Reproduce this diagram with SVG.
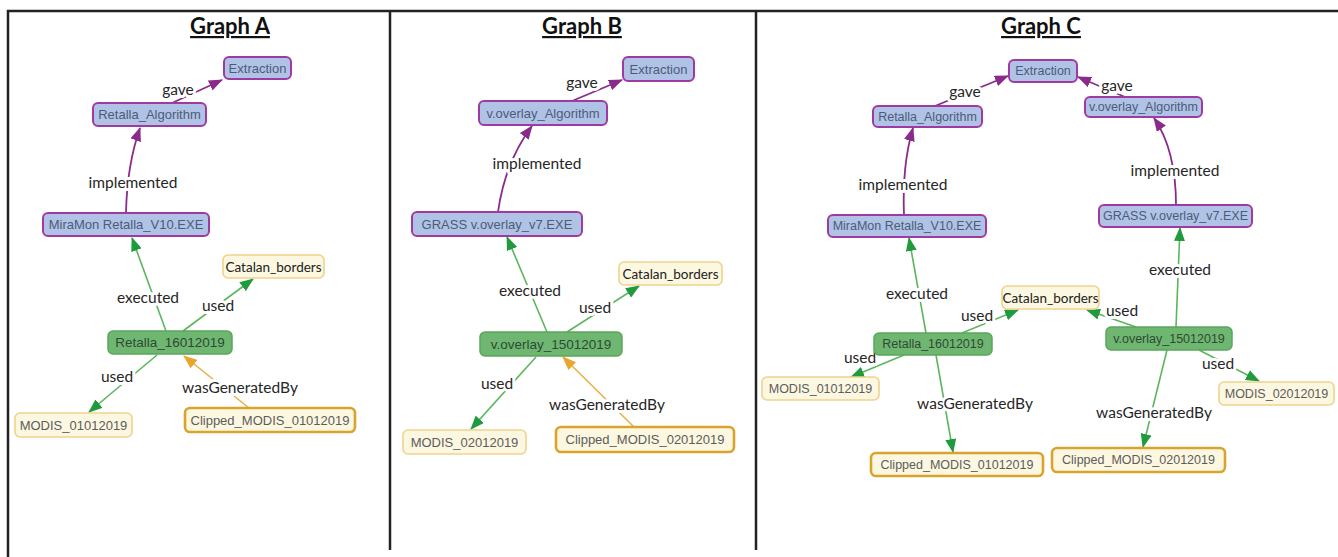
<svg xmlns="http://www.w3.org/2000/svg" width="1338" height="557" viewBox="0 0 1338 557">
  <defs>
    <marker id="arrPurple" markerUnits="userSpaceOnUse" markerWidth="14" markerHeight="11" refX="13" refY="5.5" orient="auto">
      <path d="M0,0 L14,5.5 L0,11 z" fill="#8a2b8c"/>
    </marker>
    <marker id="arrGreen" markerUnits="userSpaceOnUse" markerWidth="14" markerHeight="11" refX="13" refY="5.5" orient="auto">
      <path d="M0,0 L14,5.5 L0,11 z" fill="#1f9a3c"/>
    </marker>
    <marker id="arrOrange" markerUnits="userSpaceOnUse" markerWidth="14" markerHeight="11" refX="13" refY="5.5" orient="auto">
      <path d="M0,0 L14,5.5 L0,11 z" fill="#e9a52c"/>
    </marker>
    <style>
      .frame { stroke: #222; stroke-width: 2.5; fill: none; }
      .title { font-family: Lato, "Liberation Sans", sans-serif; font-weight: bold; font-size: 22px; fill: #111; text-anchor: middle; text-decoration: underline; }
      .plan rect { fill: #b0c2e5; stroke: #a03aa0; stroke-width: 2; }
      .plan text { fill: #4c5c78; }
      .act rect { fill: #6fb770; stroke: #5aa65c; stroke-width: 1.5; }
      .act text { fill: #2e4a36; }
      .ent rect { fill: #fcf7e0; stroke: #eed38c; stroke-width: 1.6; }
      .ent text { fill: #5c5c5c; }
      .gen rect { fill: #fcf7e0; stroke: #d9a42e; stroke-width: 2.6; }
      .gen text { fill: #5c5c5c; }
      .node text { font-family: "Liberation Sans", Arial, sans-serif; font-size: 13px; text-anchor: middle; dominant-baseline: central; }
      .act text { font-size: 13.5px; }
      .small text { font-size: 12.5px; }
      .node text.cal { font-family: Lato, "Liberation Sans", sans-serif; font-size: 13.5px; fill: #222; }
      .e { fill: none; stroke-width: 1.6; }
      .ep { stroke: #8a2b8c; stroke-width: 1.8; marker-end: url(#arrPurple); }
      .eg { stroke: #5db55f; marker-end: url(#arrGreen); }
      .eo { stroke: #eab04a; marker-end: url(#arrOrange); }
      .lbl { font-family: Lato, "Liberation Sans", sans-serif; font-size: 15.5px; fill: #262626; text-anchor: middle; dominant-baseline: central; stroke: #fff; stroke-width: 6; paint-order: stroke; stroke-linejoin: round; }
    </style>
  </defs>

  <rect x="0" y="0" width="1338" height="557" fill="#fff"/>

  <!-- panel frame and dividers -->
  <g id="frame">
    <path class="frame" d="M8,557 L8,11 L1338,11"/>
    <line class="frame" x1="390" y1="11" x2="390" y2="550"/>
    <line class="frame" x1="756" y1="11" x2="756" y2="550"/>
  </g>

  <!-- panel titles -->
  <g id="titles">
    <text class="title" x="230" y="34">Graph A</text>
    <text class="title" x="582" y="34">Graph B</text>
    <text class="title" x="1041" y="34">Graph C</text>
  </g>

  <!-- connectors -->
  <g id="connectors">
    <!-- Graph A -->
    <path class="e ep" d="M172,103 L222,80"/>
    <path class="e ep" d="M126,213 Q127,165 140,128"/>
    <path class="e eg" d="M166,331 L132,238"/>
    <path class="e eg" d="M183,331 L253,279"/>
    <path class="e eg" d="M157,355 L89,412"/>
    <path class="e eo" d="M249,408 L184,356"/>
    <!-- Graph B -->
    <path class="e ep" d="M572,101 L622,80"/>
    <path class="e ep" d="M498,212 Q505,162 532,126"/>
    <path class="e eg" d="M547,332 L507,237"/>
    <path class="e eg" d="M567,332 L639,286"/>
    <path class="e eg" d="M536,357 L471,429"/>
    <path class="e eo" d="M634,427 L563,357"/>
    <!-- Graph C -->
    <path class="e ep" d="M935,106 L1008,76"/>
    <path class="e ep" d="M1125,97 L1078,77"/>
    <path class="e ep" d="M904,215 Q902,165 913,128"/>
    <path class="e ep" d="M1176,205 Q1176,150 1154,118"/>
    <path class="e eg" d="M926,333 L909,238"/>
    <path class="e eg" d="M1176,327 L1180,228"/>
    <path class="e eg" d="M962,333 L1018,310"/>
    <path class="e eg" d="M1136,327 L1087,310"/>
    <path class="e eg" d="M904,355 L851,377"/>
    <path class="e eg" d="M1199,350 L1259,381"/>
    <path class="e eg" d="M936,355 L953,452"/>
    <path class="e eg" d="M1167,350 L1143,447"/>
  </g>

  <!-- connector labels -->
  <g id="labels">
    <text class="lbl" x="178" y="89">gave</text>
    <text class="lbl" x="133" y="182">implemented</text>
    <text class="lbl" x="148" y="297">executed</text>
    <text class="lbl" x="218" y="305">used</text>
    <text class="lbl" x="117" y="376">used</text>
    <text class="lbl" x="240" y="387">wasGeneratedBy</text>

    <text class="lbl" x="582" y="82">gave</text>
    <text class="lbl" x="537" y="163">implemented</text>
    <text class="lbl" x="530" y="290">executed</text>
    <text class="lbl" x="595" y="307">used</text>
    <text class="lbl" x="497" y="383">used</text>
    <text class="lbl" x="607" y="404">wasGeneratedBy</text>

    <text class="lbl" x="965" y="91">gave</text>
    <text class="lbl" x="1117" y="85">gave</text>
    <text class="lbl" x="903" y="184">implemented</text>
    <text class="lbl" x="1175" y="170">implemented</text>
    <text class="lbl" x="917" y="293">executed</text>
    <text class="lbl" x="1180" y="269">executed</text>
    <text class="lbl" x="977" y="315">used</text>
    <text class="lbl" x="1122" y="310">used</text>
    <text class="lbl" x="860" y="357">used</text>
    <text class="lbl" x="1218" y="363">used</text>
    <text class="lbl" x="975" y="403">wasGeneratedBy</text>
    <text class="lbl" x="1154" y="412">wasGeneratedBy</text>
  </g>

  <!-- Graph A nodes -->
  <g id="A_extraction" class="node plan"><rect x="224" y="57" width="67" height="22" rx="5"/><text x="257.5" y="68">Extraction</text></g>
  <g id="A_algorithm" class="node plan"><rect x="93" y="103" width="113" height="23" rx="5"/><text x="149.5" y="114.5">Retalla_Algorithm</text></g>
  <g id="A_software" class="node plan"><rect x="43" y="213" width="166" height="23" rx="5"/><text x="126" y="224.5">MiraMon Retalla_V10.EXE</text></g>
  <g id="A_catalan" class="node ent"><rect x="223" y="255" width="101" height="23" rx="5"/><text class="cal" x="273.5" y="266.5">Catalan_borders</text></g>
  <g id="A_activity" class="node act"><rect x="108" y="331" width="124" height="23" rx="5"/><text x="170" y="342.5">Retalla_16012019</text></g>
  <g id="A_modis" class="node ent"><rect x="15" y="413" width="117" height="24" rx="5"/><text x="73.5" y="425">MODIS_01012019</text></g>
  <g id="A_clipped" class="node gen"><rect x="185" y="408" width="170" height="24" rx="5"/><text x="270" y="420">Clipped_MODIS_01012019</text></g>

  <!-- Graph B nodes -->
  <g id="B_extraction" class="node plan"><rect x="623" y="57" width="71" height="24" rx="5"/><text x="658.5" y="69">Extraction</text></g>
  <g id="B_algorithm" class="node plan"><rect x="479" y="101" width="128" height="24" rx="5"/><text x="543" y="113">v.overlay_Algorithm</text></g>
  <g id="B_software" class="node plan"><rect x="412" y="212" width="170" height="24" rx="5"/><text x="497" y="224">GRASS v.overlay_v7.EXE</text></g>
  <g id="B_catalan" class="node ent"><rect x="619" y="262" width="103" height="23" rx="5"/><text class="cal" x="670.5" y="273.5">Catalan_borders</text></g>
  <g id="B_activity" class="node act"><rect x="480" y="332" width="142" height="24" rx="5"/><text x="551" y="344">v.overlay_15012019</text></g>
  <g id="B_modis" class="node ent"><rect x="403" y="430" width="123" height="24" rx="5"/><text x="464.5" y="442">MODIS_02012019</text></g>
  <g id="B_clipped" class="node gen"><rect x="556" y="427" width="178" height="25" rx="5"/><text x="645" y="439.5">Clipped_MODIS_02012019</text></g>

  <!-- Graph C nodes -->
  <g id="C_extraction" class="node plan small"><rect x="1009" y="60" width="68" height="22" rx="5"/><text x="1043" y="71">Extraction</text></g>
  <g id="C_retalla_algorithm" class="node plan small"><rect x="873" y="106" width="109" height="21" rx="5"/><text x="927.5" y="116.5">Retalla_Algorithm</text></g>
  <g id="C_voverlay_algorithm" class="node plan small"><rect x="1085" y="97" width="117" height="20" rx="5"/><text x="1143.5" y="107">v.overlay_Algorithm</text></g>
  <g id="C_miramon" class="node plan small"><rect x="828" y="215" width="158" height="22" rx="5"/><text x="907" y="226">MiraMon Retalla_V10.EXE</text></g>
  <g id="C_grass" class="node plan small"><rect x="1099" y="205" width="153" height="22" rx="5"/><text x="1175.5" y="216">GRASS v.overlay_v7.EXE</text></g>
  <g id="C_catalan" class="node ent small"><rect x="1002" y="286" width="97" height="23" rx="5"/><text class="cal" x="1050.5" y="297.5">Catalan_borders</text></g>
  <g id="C_retalla_activity" class="node act small"><rect x="874" y="333" width="118" height="22" rx="5"/><text x="933" y="344">Retalla_16012019</text></g>
  <g id="C_voverlay_activity" class="node act small"><rect x="1106" y="327" width="126" height="23" rx="5"/><text x="1169" y="338.5">v.overlay_15012019</text></g>
  <g id="C_modis01" class="node ent small"><rect x="762" y="377" width="117" height="23" rx="5"/><text x="820.5" y="388.5">MODIS_01012019</text></g>
  <g id="C_modis02" class="node ent small"><rect x="1219" y="382" width="115" height="23" rx="5"/><text x="1276.5" y="393.5">MODIS_02012019</text></g>
  <g id="C_clipped01" class="node gen small"><rect x="871" y="453" width="172" height="23" rx="5"/><text x="957" y="464.5">Clipped_MODIS_01012019</text></g>
  <g id="C_clipped02" class="node gen small"><rect x="1052" y="448" width="173" height="24" rx="5"/><text x="1138.5" y="460">Clipped_MODIS_02012019</text></g>
</svg>
